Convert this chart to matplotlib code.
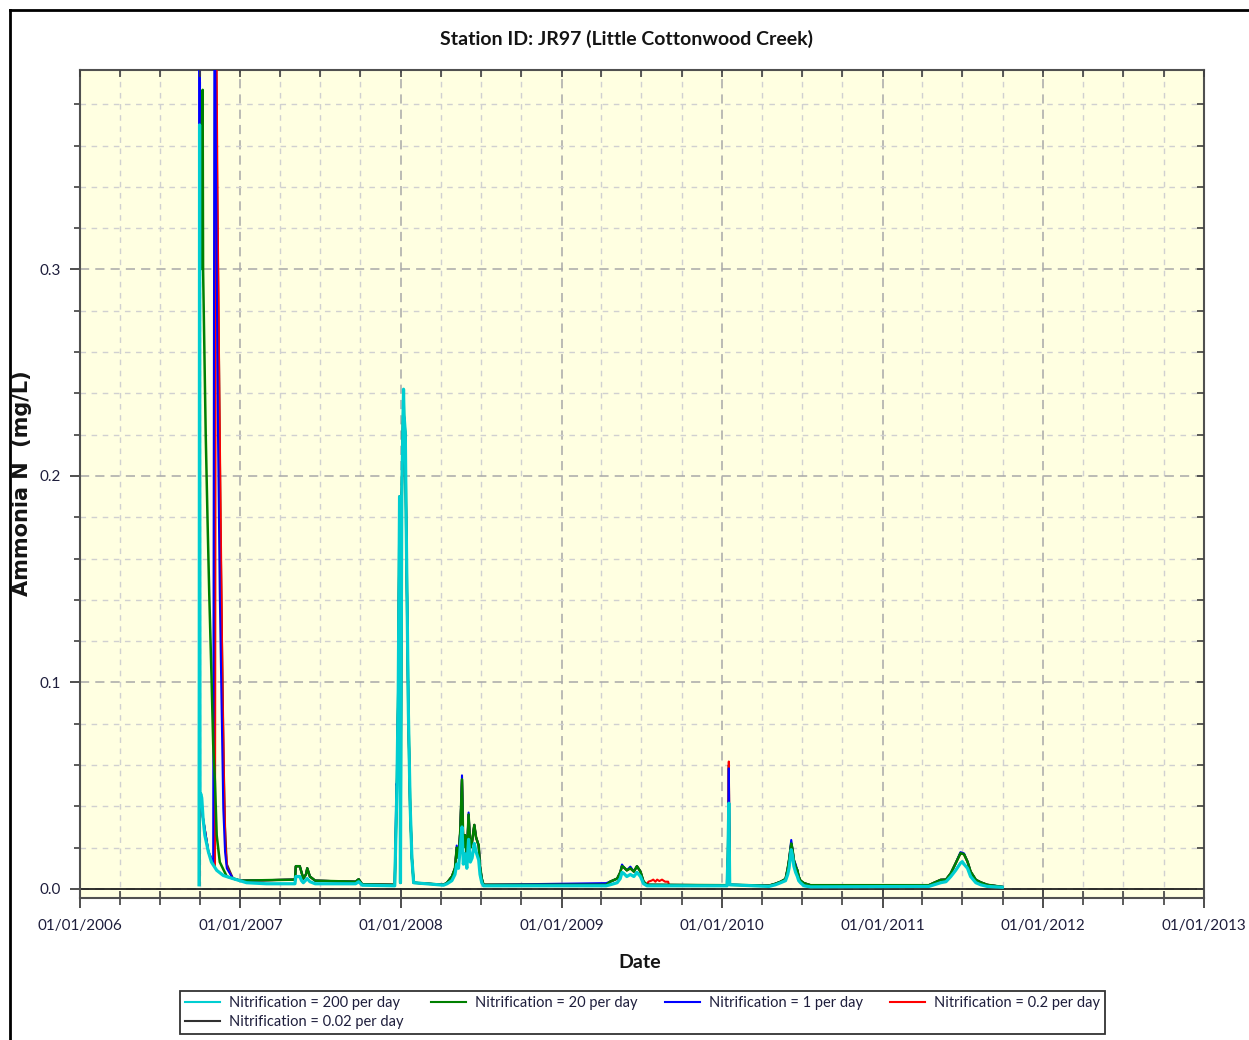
import matplotlib.pyplot as plt
import matplotlib.dates as mdates
import pandas as pd
from matplotlib.lines import Line2D
from matplotlib.ticker import MultipleLocator, FormatStrFormatter, NullFormatter

# Ammonia N (mg/L) at JR97: (date, value)
n200 = [
    ("2006-09-29", 0.002), ("2006-09-30", 0.370), ("2006-10-01", 0.045), ("2006-10-03", 0.046),
    ("2006-10-05", 0.044), ("2006-10-08", 0.034), ("2006-10-12", 0.026), ("2006-10-20", 0.018),
    ("2006-10-27", 0.013), ("2006-11-08", 0.009), ("2006-11-23", 0.0065), ("2006-12-15", 0.005),
    ("2007-01-15", 0.003), ("2007-03-01", 0.0025), ("2007-05-05", 0.0025), ("2007-05-07", 0.006),
    ("2007-05-16", 0.006), ("2007-05-20", 0.004), ("2007-05-24", 0.003), ("2007-06-02", 0.005),
    ("2007-06-08", 0.0035), ("2007-06-20", 0.0025), ("2007-09-20", 0.0025), ("2007-09-27", 0.0035),
    ("2007-10-05", 0.0018), ("2007-12-18", 0.0015), ("2007-12-23", 0.050), ("2007-12-26", 0.096),
    ("2007-12-29", 0.190), ("2007-12-31", 0.003), ("2008-01-03", 0.190), ("2008-01-07", 0.242),
    ("2008-01-08", 0.230), ("2008-01-11", 0.221), ("2008-01-13", 0.178), ("2008-01-16", 0.123),
    ("2008-01-18", 0.086), ("2008-01-22", 0.041), ("2008-01-26", 0.015), ("2008-01-30", 0.003),
    ("2008-04-07", 0.0018), ("2008-04-15", 0.0025), ("2008-04-26", 0.004), ("2008-05-03", 0.007),
    ("2008-05-07", 0.012), ("2008-05-11", 0.010), ("2008-05-15", 0.020), ("2008-05-19", 0.030),
    ("2008-05-22", 0.012), ("2008-05-26", 0.017), ("2008-05-30", 0.010), ("2008-06-03", 0.024),
    ("2008-06-07", 0.013), ("2008-06-11", 0.015), ("2008-06-16", 0.022), ("2008-06-20", 0.018),
    ("2008-06-26", 0.014), ("2008-06-29", 0.007), ("2008-07-03", 0.003), ("2008-07-07", 0.0015),
    ("2009-04-12", 0.0015), ("2009-04-21", 0.002), ("2009-05-07", 0.003), ("2009-05-14", 0.005),
    ("2009-05-18", 0.008), ("2009-05-22", 0.0075), ("2009-05-29", 0.006), ("2009-06-06", 0.007),
    ("2009-06-14", 0.006), ("2009-06-21", 0.008), ("2009-06-29", 0.006), ("2009-07-06", 0.0025),
    ("2009-07-14", 0.0015), ("2010-01-12", 0.0015), ("2010-01-14", 0.0156), ("2010-01-16", 0.0415),
    ("2010-01-18", 0.002), ("2010-04-17", 0.0012), ("2010-05-02", 0.002), ("2010-05-14", 0.003),
    ("2010-05-25", 0.004), ("2010-05-30", 0.007), ("2010-06-02", 0.010), ("2010-06-07", 0.019),
    ("2010-06-10", 0.016), ("2010-06-13", 0.011), ("2010-06-17", 0.008), ("2010-06-21", 0.006),
    ("2010-06-24", 0.004), ("2010-06-28", 0.003), ("2010-07-06", 0.0015), ("2010-07-21", 0.001),
    ("2011-04-16", 0.0012), ("2011-04-28", 0.002), ("2011-05-13", 0.003), ("2011-05-25", 0.0035),
    ("2011-06-05", 0.006), ("2011-06-16", 0.009), ("2011-06-27", 0.0125), ("2011-07-01", 0.0132),
    ("2011-07-05", 0.012), ("2011-07-13", 0.010), ("2011-07-20", 0.006), ("2011-08-01", 0.003),
    ("2011-08-12", 0.002), ("2011-08-27", 0.0012), ("2011-09-30", 0.0008),
]

n20 = [
    ("2006-09-29", 0.002), ("2006-09-30", 0.360), ("2006-10-02", 0.300), ("2006-10-05", 0.366),
    ("2006-10-07", 0.387), ("2006-10-08", 0.300), ("2006-10-11", 0.260), ("2006-10-14", 0.220),
    ("2006-10-18", 0.180), ("2006-10-22", 0.143), ("2006-10-27", 0.104), ("2006-10-31", 0.070),
    ("2006-11-04", 0.052), ("2006-11-08", 0.026), ("2006-11-15", 0.013), ("2006-12-01", 0.006),
    ("2007-01-01", 0.004), ("2007-05-05", 0.0045), ("2007-05-07", 0.011), ("2007-05-16", 0.011),
    ("2007-05-20", 0.008), ("2007-05-24", 0.005), ("2007-05-30", 0.007), ("2007-06-02", 0.010),
    ("2007-06-08", 0.006), ("2007-06-20", 0.004), ("2007-09-20", 0.0035), ("2007-09-27", 0.0047),
    ("2007-10-05", 0.0022), ("2007-12-18", 0.002), ("2007-12-23", 0.050), ("2007-12-26", 0.095),
    ("2007-12-29", 0.190), ("2007-12-31", 0.003), ("2008-01-03", 0.190), ("2008-01-07", 0.241),
    ("2008-01-08", 0.229), ("2008-01-11", 0.220), ("2008-01-13", 0.177), ("2008-01-16", 0.122),
    ("2008-01-18", 0.085), ("2008-01-22", 0.040), ("2008-01-26", 0.015), ("2008-01-30", 0.003),
    ("2008-04-07", 0.002), ("2008-04-15", 0.003), ("2008-04-26", 0.006), ("2008-05-03", 0.010),
    ("2008-05-07", 0.020), ("2008-05-11", 0.015), ("2008-05-15", 0.028), ("2008-05-19", 0.053),
    ("2008-05-22", 0.020), ("2008-05-26", 0.026), ("2008-05-30", 0.016), ("2008-06-03", 0.036),
    ("2008-06-07", 0.020), ("2008-06-11", 0.023), ("2008-06-16", 0.031), ("2008-06-20", 0.025),
    ("2008-06-26", 0.021), ("2008-06-29", 0.011), ("2008-07-03", 0.005), ("2008-07-07", 0.002),
    ("2009-04-12", 0.002), ("2009-04-21", 0.0035), ("2009-05-07", 0.005), ("2009-05-14", 0.008),
    ("2009-05-18", 0.011), ("2009-05-22", 0.0105), ("2009-05-29", 0.009), ("2009-06-06", 0.010),
    ("2009-06-14", 0.0084), ("2009-06-21", 0.011), ("2009-06-29", 0.0084), ("2009-07-06", 0.0035),
    ("2009-07-14", 0.002), ("2010-01-12", 0.0018), ("2010-01-14", 0.0156), ("2010-01-16", 0.0415),
    ("2010-01-18", 0.002), ("2010-04-17", 0.0016), ("2010-05-02", 0.0025), ("2010-05-14", 0.0035),
    ("2010-05-25", 0.0048), ("2010-05-30", 0.010), ("2010-06-02", 0.014), ("2010-06-07", 0.022),
    ("2010-06-10", 0.019), ("2010-06-13", 0.014), ("2010-06-17", 0.0108), ("2010-06-21", 0.009),
    ("2010-06-24", 0.006), ("2010-06-28", 0.004), ("2010-07-06", 0.0028), ("2010-07-21", 0.0018),
    ("2011-04-16", 0.0018), ("2011-04-28", 0.003), ("2011-05-13", 0.0044), ("2011-05-25", 0.0045),
    ("2011-06-05", 0.0076), ("2011-06-16", 0.0124), ("2011-06-27", 0.0173), ("2011-07-05", 0.0168),
    ("2011-07-13", 0.0132), ("2011-07-20", 0.0084), ("2011-08-01", 0.0044), ("2011-08-12", 0.0032),
    ("2011-08-27", 0.002), ("2011-09-30", 0.001),
]

n1 = [
    ("2006-09-29", 0.002), ("2006-09-30", 0.450), ("2006-10-01", 0.045), ("2006-10-08", 0.034),
    ("2006-10-20", 0.018), ("2006-10-31", 0.012), ("2006-11-03", 0.450), ("2006-11-08", 0.300),
    ("2006-11-11", 0.220), ("2006-11-15", 0.143), ("2006-11-19", 0.090), ("2006-11-23", 0.039),
    ("2006-11-27", 0.018), ("2006-12-01", 0.010), ("2006-12-15", 0.005),
    ("2007-01-01", 0.004), ("2007-05-05", 0.0045), ("2007-05-07", 0.011), ("2007-05-16", 0.011),
    ("2007-05-20", 0.008), ("2007-05-24", 0.005), ("2007-05-30", 0.007), ("2007-06-02", 0.010),
    ("2007-06-08", 0.006), ("2007-06-20", 0.004), ("2007-09-20", 0.0035), ("2007-09-27", 0.0047),
    ("2007-10-05", 0.0022), ("2007-12-18", 0.002), ("2007-12-22", 0.051), ("2007-12-23", 0.050),
    ("2007-12-26", 0.095), ("2007-12-29", 0.190), ("2007-12-31", 0.003), ("2008-01-03", 0.190),
    ("2008-01-07", 0.241), ("2008-01-08", 0.229), ("2008-01-11", 0.220), ("2008-01-13", 0.177),
    ("2008-01-16", 0.122), ("2008-01-18", 0.085), ("2008-01-22", 0.040), ("2008-01-26", 0.015),
    ("2008-01-30", 0.003), ("2008-04-07", 0.002), ("2008-04-15", 0.003), ("2008-04-26", 0.006),
    ("2008-05-03", 0.010), ("2008-05-07", 0.021), ("2008-05-11", 0.015), ("2008-05-15", 0.028),
    ("2008-05-19", 0.055), ("2008-05-22", 0.020), ("2008-05-26", 0.026), ("2008-05-30", 0.016),
    ("2008-06-03", 0.037), ("2008-06-07", 0.020), ("2008-06-11", 0.023), ("2008-06-16", 0.031),
    ("2008-06-20", 0.025), ("2008-06-26", 0.021), ("2008-06-29", 0.011), ("2008-07-03", 0.005),
    ("2008-07-07", 0.002), ("2009-04-12", 0.0028), ("2009-04-21", 0.0035), ("2009-05-07", 0.005),
    ("2009-05-14", 0.008), ("2009-05-18", 0.0118), ("2009-05-22", 0.0105), ("2009-05-29", 0.009),
    ("2009-06-06", 0.0108), ("2009-06-14", 0.0084), ("2009-06-21", 0.011), ("2009-06-29", 0.0084),
    ("2009-07-06", 0.0035), ("2009-07-14", 0.002), ("2010-01-12", 0.0018), ("2010-01-14", 0.0156),
    ("2010-01-16", 0.0584), ("2010-01-18", 0.002), ("2010-04-17", 0.0016), ("2010-05-02", 0.0025),
    ("2010-05-14", 0.0035), ("2010-05-25", 0.0048), ("2010-05-30", 0.010), ("2010-06-02", 0.014),
    ("2010-06-07", 0.0237), ("2010-06-10", 0.019), ("2010-06-13", 0.014), ("2010-06-17", 0.012),
    ("2010-06-21", 0.009), ("2010-06-24", 0.006), ("2010-06-28", 0.004), ("2010-07-06", 0.0028),
    ("2010-07-21", 0.0018), ("2011-04-16", 0.0018), ("2011-04-28", 0.003), ("2011-05-13", 0.0044),
    ("2011-05-25", 0.0045), ("2011-06-05", 0.0076), ("2011-06-16", 0.0124), ("2011-06-27", 0.0178),
    ("2011-07-05", 0.0172), ("2011-07-13", 0.0132), ("2011-07-20", 0.0084), ("2011-08-01", 0.0044),
    ("2011-08-12", 0.0032), ("2011-08-27", 0.002), ("2011-09-30", 0.001),
]

n02 = [
    ("2006-09-29", 0.002), ("2006-10-01", 0.045), ("2006-10-08", 0.034), ("2006-10-20", 0.018),
    ("2006-11-04", 0.011), ("2006-11-06", 0.450), ("2006-11-10", 0.330), ("2006-11-14", 0.240),
    ("2006-11-18", 0.160), ("2006-11-21", 0.100), ("2006-11-25", 0.045), ("2006-11-28", 0.020),
    ("2006-12-02", 0.010), ("2006-12-15", 0.005),
    ("2007-01-01", 0.004), ("2007-05-05", 0.0045), ("2007-05-07", 0.011), ("2007-05-16", 0.011),
    ("2007-05-20", 0.008), ("2007-05-24", 0.005), ("2007-05-30", 0.007), ("2007-06-02", 0.010),
    ("2007-06-08", 0.006), ("2007-06-20", 0.004), ("2007-09-20", 0.0035), ("2007-09-27", 0.0047),
    ("2007-10-05", 0.0022), ("2007-12-18", 0.002), ("2007-12-23", 0.050), ("2007-12-26", 0.095),
    ("2007-12-29", 0.190), ("2007-12-31", 0.003), ("2008-01-03", 0.190), ("2008-01-07", 0.241),
    ("2008-01-08", 0.229), ("2008-01-11", 0.220), ("2008-01-13", 0.177), ("2008-01-16", 0.122),
    ("2008-01-18", 0.085), ("2008-01-22", 0.040), ("2008-01-26", 0.015), ("2008-01-30", 0.003),
    ("2008-04-07", 0.002), ("2008-04-15", 0.003), ("2008-04-26", 0.006), ("2008-05-03", 0.010),
    ("2008-05-07", 0.020), ("2008-05-11", 0.015), ("2008-05-15", 0.028), ("2008-05-19", 0.053),
    ("2008-05-22", 0.020), ("2008-05-26", 0.026), ("2008-05-30", 0.016), ("2008-06-03", 0.036),
    ("2008-06-07", 0.020), ("2008-06-11", 0.023), ("2008-06-16", 0.031), ("2008-06-20", 0.025),
    ("2008-06-26", 0.021), ("2008-06-29", 0.011), ("2008-07-03", 0.005), ("2008-07-07", 0.002),
    ("2009-04-12", 0.002), ("2009-04-21", 0.0035), ("2009-05-07", 0.005), ("2009-05-14", 0.008),
    ("2009-05-18", 0.011), ("2009-05-22", 0.0105), ("2009-05-29", 0.009), ("2009-06-06", 0.010),
    ("2009-06-14", 0.0084), ("2009-06-21", 0.011), ("2009-06-29", 0.0084), ("2009-07-06", 0.0035),
    ("2009-07-14", 0.002), ("2009-07-17", 0.0035), ("2009-07-24", 0.004), ("2009-07-28", 0.0045),
    ("2009-08-02", 0.0035), ("2009-08-06", 0.0045), ("2009-08-11", 0.0038), ("2009-08-17", 0.0045),
    ("2009-08-24", 0.0035), ("2009-08-31", 0.0035), ("2009-09-02", 0.0018),
    ("2010-01-12", 0.0018), ("2010-01-14", 0.0156), ("2010-01-16", 0.0617), ("2010-01-18", 0.002),
    ("2010-04-17", 0.0016), ("2010-05-02", 0.0025), ("2010-05-14", 0.0035), ("2010-05-25", 0.0048),
    ("2010-05-30", 0.010), ("2010-06-02", 0.014), ("2010-06-07", 0.022), ("2010-06-10", 0.019),
    ("2010-06-13", 0.014), ("2010-06-17", 0.0108), ("2010-06-21", 0.009), ("2010-06-24", 0.006),
    ("2010-06-28", 0.004), ("2010-07-06", 0.0028), ("2010-07-21", 0.0018), ("2011-04-16", 0.0018),
    ("2011-04-28", 0.003), ("2011-05-13", 0.0044), ("2011-05-25", 0.0045), ("2011-06-05", 0.0076),
    ("2011-06-16", 0.0124), ("2011-06-27", 0.0173), ("2011-07-05", 0.0168), ("2011-07-13", 0.0132),
    ("2011-07-20", 0.0084), ("2011-08-01", 0.0044), ("2011-08-12", 0.0032), ("2011-08-27", 0.002),
    ("2011-09-30", 0.001),
]

n002 = [
    ("2006-09-29", 0.002), ("2006-10-01", 0.045), ("2006-10-08", 0.034), ("2006-10-20", 0.018),
    ("2006-11-04", 0.011), ("2006-11-05", 0.450), ("2006-11-09", 0.340), ("2006-11-13", 0.260),
    ("2006-11-17", 0.170), ("2006-11-20", 0.120), ("2006-11-24", 0.060), ("2006-11-27", 0.030),
    ("2006-12-01", 0.012), ("2006-12-15", 0.005),
    ("2007-01-01", 0.004), ("2007-05-05", 0.0045), ("2007-05-07", 0.011), ("2007-05-16", 0.011),
    ("2007-05-20", 0.008), ("2007-05-24", 0.005), ("2007-05-30", 0.007), ("2007-06-02", 0.010),
    ("2007-06-08", 0.006), ("2007-06-20", 0.004), ("2007-09-20", 0.0035), ("2007-09-27", 0.0047),
    ("2007-10-05", 0.0022), ("2007-12-18", 0.002), ("2007-12-23", 0.050), ("2007-12-26", 0.095),
    ("2007-12-29", 0.190), ("2007-12-31", 0.003), ("2008-01-03", 0.190), ("2008-01-07", 0.241),
    ("2008-01-08", 0.229), ("2008-01-11", 0.220), ("2008-01-13", 0.177), ("2008-01-16", 0.122),
    ("2008-01-18", 0.085), ("2008-01-22", 0.040), ("2008-01-26", 0.015), ("2008-01-30", 0.003),
    ("2008-04-07", 0.002), ("2008-04-15", 0.003), ("2008-04-26", 0.006), ("2008-05-03", 0.010),
    ("2008-05-07", 0.020), ("2008-05-11", 0.015), ("2008-05-15", 0.028), ("2008-05-19", 0.053),
    ("2008-05-22", 0.020), ("2008-05-26", 0.026), ("2008-05-30", 0.016), ("2008-06-03", 0.036),
    ("2008-06-07", 0.020), ("2008-06-11", 0.023), ("2008-06-16", 0.031), ("2008-06-20", 0.025),
    ("2008-06-26", 0.021), ("2008-06-29", 0.011), ("2008-07-03", 0.005), ("2008-07-07", 0.002),
    ("2009-04-12", 0.002), ("2009-04-21", 0.0035), ("2009-05-07", 0.005), ("2009-05-14", 0.008),
    ("2009-05-18", 0.011), ("2009-05-22", 0.0105), ("2009-05-29", 0.009), ("2009-06-06", 0.010),
    ("2009-06-14", 0.0084), ("2009-06-21", 0.011), ("2009-06-29", 0.0084), ("2009-07-06", 0.0035),
    ("2009-07-14", 0.002), ("2010-01-12", 0.0018), ("2010-01-14", 0.0156), ("2010-01-16", 0.060),
    ("2010-01-18", 0.002), ("2010-04-17", 0.0016), ("2010-05-02", 0.0025), ("2010-05-14", 0.0035),
    ("2010-05-25", 0.0048), ("2010-05-30", 0.010), ("2010-06-02", 0.014), ("2010-06-07", 0.022),
    ("2010-06-10", 0.019), ("2010-06-13", 0.014), ("2010-06-17", 0.0108), ("2010-06-21", 0.009),
    ("2010-06-24", 0.006), ("2010-06-28", 0.004), ("2010-07-06", 0.0028), ("2010-07-21", 0.0018),
    ("2011-04-16", 0.0018), ("2011-04-28", 0.003), ("2011-05-13", 0.0044), ("2011-05-25", 0.0045),
    ("2011-06-05", 0.0076), ("2011-06-16", 0.0124), ("2011-06-27", 0.0173), ("2011-07-05", 0.0168),
    ("2011-07-13", 0.0132), ("2011-07-20", 0.0084), ("2011-08-01", 0.0044), ("2011-08-12", 0.0032),
    ("2011-08-27", 0.002), ("2011-09-30", 0.001),
]

labels = ["Nitrification = 200 per day", "Nitrification = 20 per day",
          "Nitrification = 1 per day", "Nitrification = 0.2 per day",
          "Nitrification = 0.02 per day"]
colors = ["#00CED1", "#008000", "#0000FF", "#FF0000", "#303030"]
widths = [2.3, 1.8, 1.5, 1.5, 1.5]
all_series = [n200, n20, n1, n02, n002]

narrow = ["Lato", "DejaVu Sans"]
txt_col = "#1E1E3C"

fig = plt.figure(figsize=(12.49, 10.40), dpi=100)
ax = fig.add_axes([80 / 1249, 1 - 898 / 1040, 1124 / 1249, 828 / 1040])
ax.set_facecolor("#FFFFE1")

# black first, cyan on top (like the original)
for data, c, w in reversed(list(zip(all_series, colors, widths))):
    d = pd.to_datetime([p[0] for p in data])
    v = [p[1] for p in data]
    ax.plot(d, v, color=c, lw=w, zorder=3)

ax.axhline(0, color="#202020", lw=1.3, zorder=2)

ax.set_xlim(pd.Timestamp("2006-01-01"), pd.Timestamp("2013-01-01"))
ax.set_ylim(-0.0044, 0.3966)
ax.xaxis.set_major_locator(mdates.YearLocator())
ax.xaxis.set_minor_locator(mdates.MonthLocator(bymonth=[4, 7, 10]))
ax.xaxis.set_major_formatter(mdates.DateFormatter("%m/%d/%Y"))
ax.yaxis.set_major_locator(MultipleLocator(0.1))
ax.yaxis.set_minor_locator(MultipleLocator(0.02))
ax.yaxis.set_major_formatter(FormatStrFormatter("%.1f"))

ax.grid(which="major", color="#A8A8A8", ls=(0, (6, 4)), lw=1.1, zorder=0)
ax.grid(which="minor", color="#D0D0D0", ls=(0, (4, 4)), lw=1.0, zorder=0)
ax.set_axisbelow(True)

for s in ax.spines.values():
    s.set_color("#505050")
    s.set_linewidth(1.5)

ax.tick_params(axis="x", which="major", direction="inout", length=14, width=1.3,
               color="#404040", pad=8, labelsize=11, labelcolor=txt_col)
ax.tick_params(axis="x", which="minor", direction="inout", length=10, width=1.2, color="#404040")
ax.tick_params(axis="y", which="major", direction="out", length=7, width=1.3,
               color="#404040", pad=7, labelsize=11, labelcolor=txt_col)
ax.tick_params(axis="y", which="minor", direction="out", length=4, width=1.2, color="#404040")
for lab in ax.get_xticklabels() + ax.get_yticklabels():
    lab.set_family(narrow)

# small inward ticks on the top and right edges
tx = ax.twiny()
tx.set_xlim(ax.get_xlim())
tx.xaxis.set_major_locator(mdates.YearLocator())
tx.xaxis.set_minor_locator(mdates.MonthLocator(bymonth=[4, 7, 10]))
tx.xaxis.set_major_formatter(NullFormatter())
tx.tick_params(which="both", direction="in", length=5, width=1.2, color="#404040")
ty = ax.twinx()
ty.set_ylim(ax.get_ylim())
ty.yaxis.set_major_locator(MultipleLocator(0.1))
ty.yaxis.set_minor_locator(MultipleLocator(0.02))
ty.yaxis.set_major_formatter(NullFormatter())
ty.tick_params(which="both", direction="in", length=5, width=1.2, color="#404040")
for t in (tx, ty):
    for s in t.spines.values():
        s.set_visible(False)

fig.text(627 / 1249, 1 - 39 / 1040, "Station ID: JR97 (Little Cottonwood Creek)",
         ha="center", va="center", fontsize=14, fontweight="bold", family=narrow, color="#141414")
fig.text(22 / 1249, 1 - 483 / 1040, "Ammonia N  (mg/L)", rotation=90, ha="center", va="center",
         fontsize=15, fontweight="bold", family="DejaVu Sans", color="#141414")
fig.text(640 / 1249, 1 - 962 / 1040, "Date", ha="center", va="center",
         fontsize=14, fontweight="bold", family=narrow, color="#141414")

# legend laid out row by row like the original (4 columns)
handles = [Line2D([], [], color=c, lw=1.5) for c in colors]
order = [0, 4, 1, 2, 3]
leg = fig.legend([handles[i] for i in order], [labels[i] for i in order], ncol=4,
                 loc="center", bbox_to_anchor=(180 / 1249, 3 / 1040, 925 / 1249, 49 / 1040),
                 mode="expand", borderaxespad=0, fancybox=False, edgecolor="black",
                 prop={"family": narrow, "size": 10.5}, handlelength=2.4, handletextpad=0.6,
                 labelspacing=0.35, borderpad=0.35, columnspacing=1.0)
leg.get_frame().set_linewidth(1.3)
for t in leg.get_texts():
    t.set_color(txt_col)

# outer frame of the original screenshot
fig.add_artist(Line2D([9.5 / 1249, 9.5 / 1249], [0, 1 - 10 / 1040], transform=fig.transFigure,
                      color="black", lw=2))
fig.add_artist(Line2D([9.5 / 1249, 1], [1 - 10 / 1040, 1 - 10 / 1040], transform=fig.transFigure,
                      color="black", lw=2))

fig.savefig("out.png", dpi=100)
